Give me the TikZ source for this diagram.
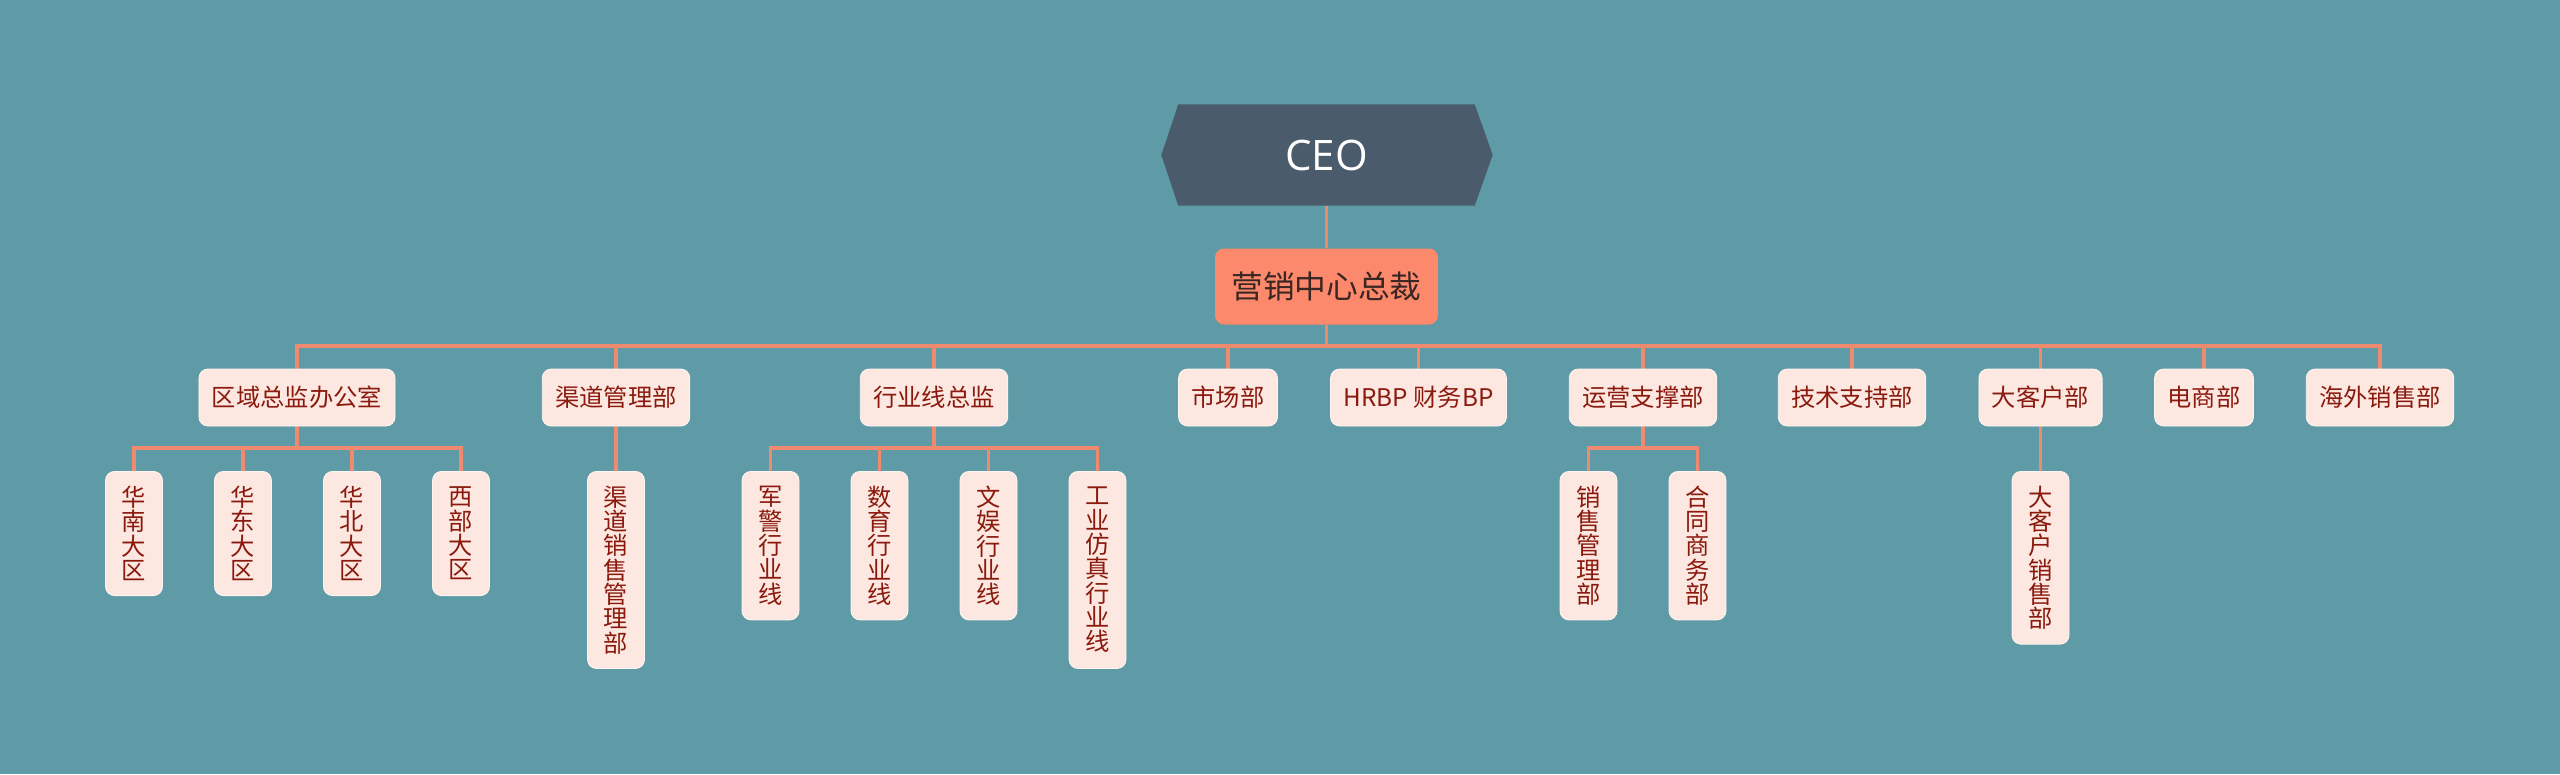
\documentclass[tikz,border=0pt]{standalone}
\usepackage{fontspec}
\setmainfont{Noto Sans CJK SC}
\newfontfamily\ceofont{Open Sans}
\definecolor{bgcol}{HTML}{5E9BA6}
\definecolor{ceofill}{HTML}{4A5B6B}
\definecolor{vpfill}{HTML}{FC896B}
\definecolor{linecol}{HTML}{EF8A6E}
\definecolor{boxfill}{HTML}{FDE8E1}
\definecolor{boxtext}{HTML}{8B1A0E}
\definecolor{vptext}{HTML}{3A2623}
\pgfdeclarelayer{bg}
\pgfsetlayers{bg,main}
\tikzset{
  conn/.style={draw=linecol, line width=3.3pt},
  ceonode/.style={minimum width=296pt, minimum height=101pt, inner sep=0pt,
    text=white, font=\ceofont\fontsize{42}{42}\selectfont},
  vpnode/.style={fill=vpfill, rounded corners=9pt, minimum width=223pt, minimum height=76pt,
    inner sep=0pt, text=vptext, font=\fontsize{31.7}{31.7}\selectfont},
  lvone/.style={fill=boxfill, draw=white!55!boxfill, line width=0.8pt, rounded corners=9pt,
    minimum height=57pt, inner xsep=13pt, inner ysep=0pt, text=boxtext,
    font=\fontsize{24.3}{24.3}\selectfont},
  lvtwo/.style={fill=boxfill, draw=white!55!boxfill, line width=0.8pt, rounded corners=9pt,
    minimum width=57pt, minimum height={#1*24.3pt+27pt}, inner sep=0pt, anchor=north,
    align=center, text=boxtext, font=\fontsize{24.3}{24.3}\selectfont},
}
\begin{document}
\begin{tikzpicture}[x=1pt,y=-1pt]
\useasboundingbox (0,0) rectangle (2560,774);
% top
\node[ceonode] (ceo) at (1326.5,155) {CEO};
\node[vpnode] (vp) at (1326.5,286.5) {营销中心总裁};
% level one
\node[lvone] (a) at (297,397.5) {区域总监办公室};
\node[lvone] (b) at (616,397.5) {渠道管理部};
\node[lvone] (c) at (934,397.5) {行业线总监};
\node[lvone] (d) at (1228,397.5) {市场部};
\node[lvone] (e) at (1418.5,397.5) {HRBP 财务BP};
\node[lvone] (f) at (1643,397.5) {运营支撑部};
\node[lvone] (g) at (1852,397.5) {技术支持部};
\node[lvone] (h) at (2040.5,397.5) {大客户部};
\node[lvone] (i) at (2204,397.5) {电商部};
\node[lvone] (j) at (2380,397.5) {海外销售部};
% level two
\node[lvtwo=4] (a1) at (134,471) {华\\南\\大\\区};
\node[lvtwo=4] (a2) at (243,471) {华\\东\\大\\区};
\node[lvtwo=4] (a3) at (352,471) {华\\北\\大\\区};
\node[lvtwo=4] (a4) at (461,471) {西\\部\\大\\区};
\node[lvtwo=7] (b1) at (616,471) {渠\\道\\销\\售\\管\\理\\部};
\node[lvtwo=5] (c1) at (770.5,471) {军\\警\\行\\业\\线};
\node[lvtwo=5] (c2) at (879.5,471) {数\\育\\行\\业\\线};
\node[lvtwo=5] (c3) at (988.5,471) {文\\娱\\行\\业\\线};
\node[lvtwo=7] (c4) at (1097.5,471) {工\\业\\仿\\真\\行\\业\\线};
\node[lvtwo=5] (f1) at (1588.5,471) {销\\售\\管\\理\\部};
\node[lvtwo=5] (f2) at (1697.5,471) {合\\同\\商\\务\\部};
\node[lvtwo=6] (h1) at (2040.5,471) {大\\客\\户\\销\\售\\部};
% background and hexagon
\begin{pgfonlayer}{bg}
\fill[bgcol] (0,0) rectangle (2560,774);
\fill[ceofill] (ceo.north west) -- (ceo.north east) -- ([xshift=18pt]ceo.east) -- (ceo.south east)
  -- (ceo.south west) -- ([xshift=-17pt]ceo.west) -- cycle;
\coordinate (bus) at (0,346);
\coordinate (sub) at (0,448);
\draw[conn] (ceo.south) -- (vp.north);
\foreach \n in {a,b,c,d,e,f,g,h,i,j}
  \draw[conn] (vp.south) -- (vp.south |- bus) -| (\n.north);
\foreach \p/\q in {a/a1,a/a2,a/a3,a/a4,b/b1,c/c1,c/c2,c/c3,c/c4,f/f1,f/f2,h/h1}
  \draw[conn] (\p.south) -- (\p.south |- sub) -| (\q.north);
\end{pgfonlayer}
\end{tikzpicture}
\end{document}
